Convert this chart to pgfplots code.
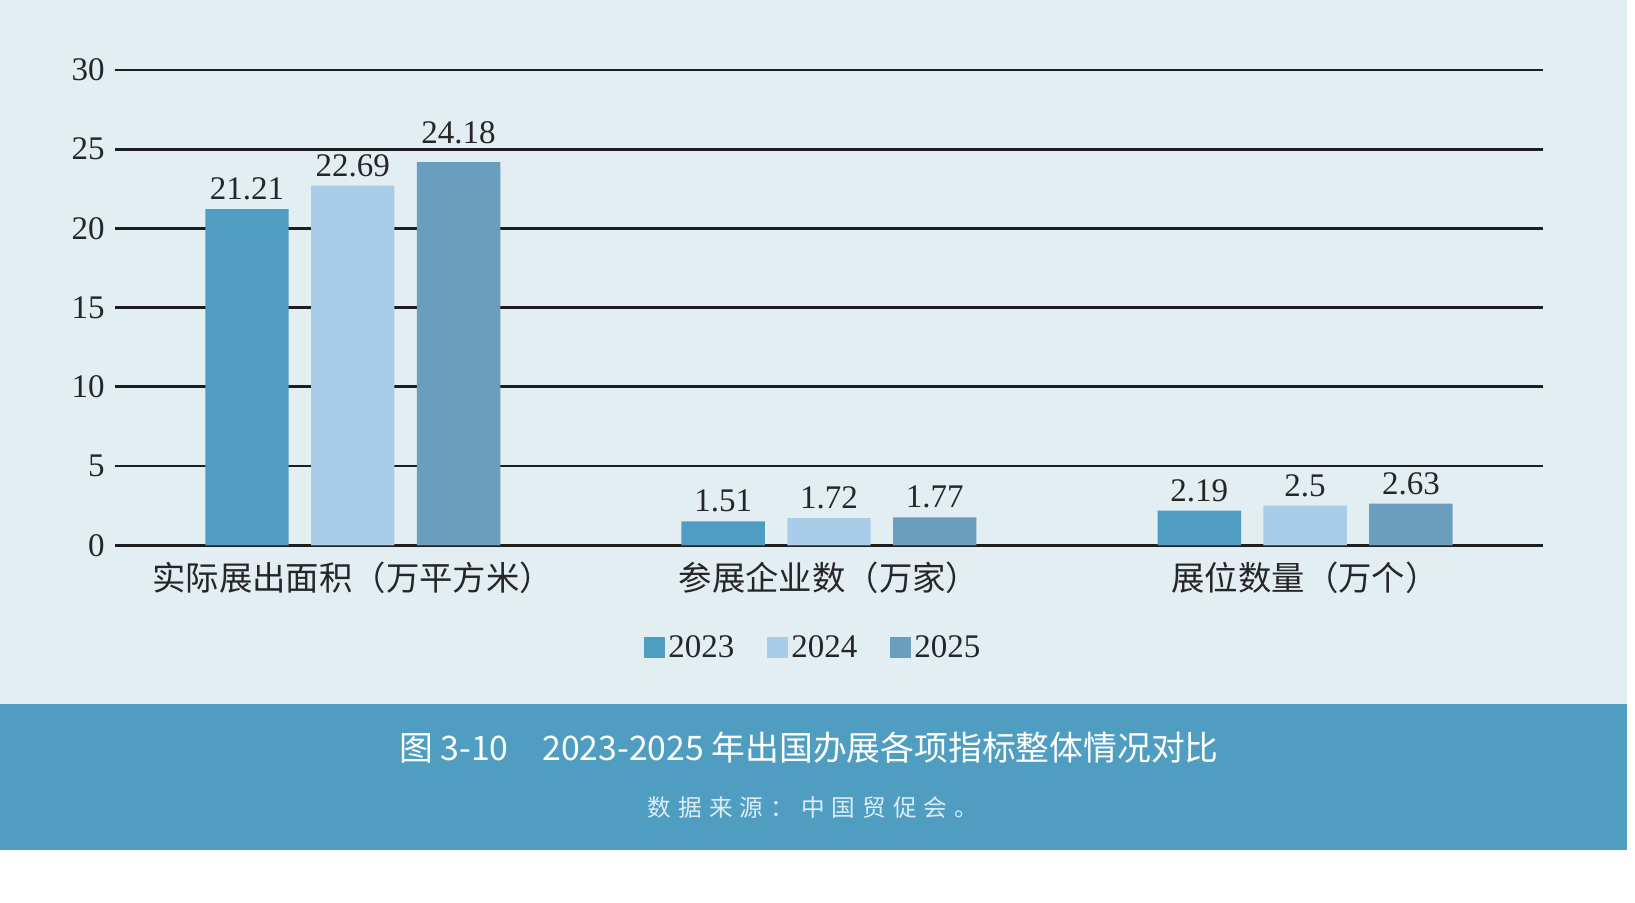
\documentclass[border=0pt]{standalone}
\usepackage{fontspec}
\setmainfont{Liberation Serif}
\newfontfamily\cjk{Noto Sans CJK SC}
\newfontfamily\cjksp[LetterSpace=30]{Noto Sans CJK SC}
\usepackage{pgfplots}
\pgfplotsset{compat=1.18}
\definecolor{bgc}{HTML}{E3EEF3}
\definecolor{band}{HTML}{4F9EC2}
\definecolor{cA}{HTML}{4F9EC2}
\definecolor{cB}{HTML}{A9CDE8}
\definecolor{cC}{HTML}{6A9EBF}
\definecolor{gridc}{HTML}{1E1E1E}
\definecolor{srcc}{HTML}{DCEDF5}
\begin{document}
\begin{tikzpicture}
\path[use as bounding box] (0,0) rectangle (817.5pt,451pt);
\fill[white] (0,0) rectangle (817.5pt,451pt);
\fill[bgc] (0,99pt) rectangle (813.5pt,451pt);
\fill[band] (0,26pt) rectangle (813.5pt,99pt);
\node[text=white, font={\cjk\fontsize{16.9}{19}\selectfont}] at (404.5pt,77.2pt) {图 3-10\hspace{1.0em}2023-2025 年出国办展各项指标整体情况对比};
\node[text=srcc, font={\cjksp\fontsize{11.8}{14}\selectfont}] at (406.5pt,47pt) {数据来源：中国贸促会。};
\begin{axis}[
  at={(57.35pt,178.35pt)}, anchor=south west,
  scale only axis, width=714.25pt, height=237.7pt,
  xmin=-0.5, xmax=2.5, ymin=0, ymax=30,
  ytick={0,5,10,15,20,25,30},
  xtick={0,1,2},
  xticklabels={实际展出面积（万平方米）,参展企业数（万家）,展位数量（万个）},
  x tick label style={font={\cjk\fontsize{16.7}{19}\selectfont}, text=black!85, yshift=-5pt},
  y tick label style={font={\fontsize{16.5}{19}\selectfont}, text=black!85, xshift=-1.5pt},
  /pgf/number format/assume math mode=true,
  axis line style={draw=none},
  major tick length=0pt,
  ymajorgrids, grid style={gridc, line width=1.4pt},
  ybar, bar width=41.7pt,
  visualization depends on={rawy \as \rawy},
  nodes near coords,
  every node near coord/.append style={font={\fontsize{16.5}{19}\selectfont}, text=black!85,
    /pgf/number format/assume math mode=true, yshift={1pt+(\rawy>24)*4.5pt}},
  legend columns=3,
  legend image code/.code={\fill[#1] (0pt,-5.25pt) rectangle (10.5pt,5.25pt);},
  legend style={at={(0.4895,-0.216)}, anchor=center, draw=none, fill=none,
    font={\fontsize{16.5}{19}\selectfont}, text=black!85,
    /tikz/every even column/.append style={column sep=15pt},
    nodes={inner sep=1.5pt}},
]
\addplot[fill=cA, draw=none, bar shift=-52.9pt] coordinates {(0,21.21) (1,1.51) (2,2.19)};
\addplot[fill=cB, draw=none, bar shift=0pt] coordinates {(0,22.69) (1,1.72) (2,2.5)};
\addplot[fill=cC, draw=none, bar shift=52.9pt] coordinates {(0,24.18) (1,1.77) (2,2.63)};
\legend{2023,2024,2025}
\end{axis}
\end{tikzpicture}
\end{document}
